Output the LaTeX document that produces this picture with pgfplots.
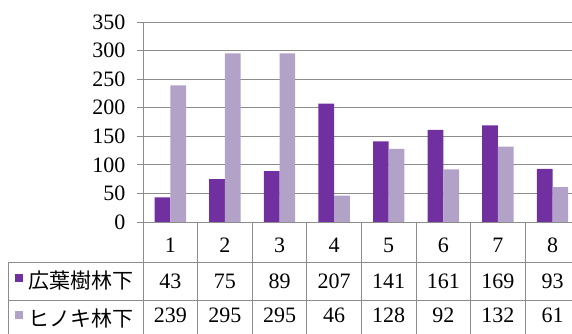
\documentclass[border=0pt]{standalone}
\usepackage{pgfplots}
\pgfplotsset{compat=1.18}
\usepackage{pgfplotstable}
\usepackage{fontspec}
\setmainfont{Liberation Serif}
\newfontfamily\jp{Noto Sans CJK JP}
\definecolor{dk}{HTML}{7030A0}
\definecolor{lt}{HTML}{B3A2C7}
\definecolor{gr}{HTML}{8C8C8C}
\pgfplotstableread{
x a b
1 43 239
2 75 295
3 89 295
4 207 46
5 141 128
6 161 92
7 169 132
8 93 61
}\data
\begin{document}
\begin{tikzpicture}[x=1pt,y=1pt]
\useasboundingbox (0,0) rectangle (572,334);
\begin{axis}[
  at={(143pt,112pt)}, anchor=south west,
  scale only axis, width=429pt, height=200pt,
  xmin=0.5, xmax=8.357, ymin=0, ymax=350,
  ytick={0,50,...,350}, xtick=\empty,
  axis x line*=bottom, axis y line*=left,
  axis line style={gr, line width=0.8pt},
  ymajorgrids, grid style={gr, line width=0.8pt},
  tick align=outside, major tick length=6pt,
  ytick style={gr, line width=0.8pt},
  yticklabel style={xshift=-8pt},
  /pgf/number format/assume math mode=true,
  tick label style={font=\fontsize{22}{22}\selectfont},
  clip=false,
  nodes near coords align={anchor=center},
  every node near coord/.append style={font=\fontsize{22}{22}\selectfont, text=black, inner sep=0pt},
]
\addplot[ybar, bar width=15.7pt, bar shift=-7.85pt, fill=dk, draw=none] table[x=x, y=a] {\data};
\addplot[ybar, bar width=15.7pt, bar shift=7.85pt, fill=lt, draw=none] table[x=x, y=b] {\data};
\addplot[draw=none, mark=none, nodes near coords, point meta=explicit symbolic] table[x=x, y expr=-40.25, meta=x] {\data};
\addplot[draw=none, mark=none, nodes near coords, point meta=explicit symbolic] table[x=x, y expr=-104, meta=a] {\data};
\addplot[draw=none, mark=none, nodes near coords, point meta=explicit symbolic] table[x=x, y expr=-162.75, meta=b] {\data};
\end{axis}
% table frame
\begin{scope}[gr, line width=0.8pt]
\draw (8,72) -- (590,72);
\draw (8,34) -- (590,34);
\draw (8,72) -- (8,-5);
\foreach \k in {0,...,8} {\draw ({143+54.6*\k},112) -- ({143+54.6*\k},-5);}
\end{scope}
\fill[dk] (15,52) rectangle (23,60);
\fill[lt] (15,15) rectangle (23,23);
\node[anchor=west, inner sep=0pt, font=\fontsize{21}{21}\selectfont\jp] at (28,53) {広葉樹林下};
\node[anchor=west, inner sep=0pt, font=\fontsize{21}{21}\selectfont\jp] at (28,16) {ヒノキ林下};
\end{tikzpicture}
\end{document}
